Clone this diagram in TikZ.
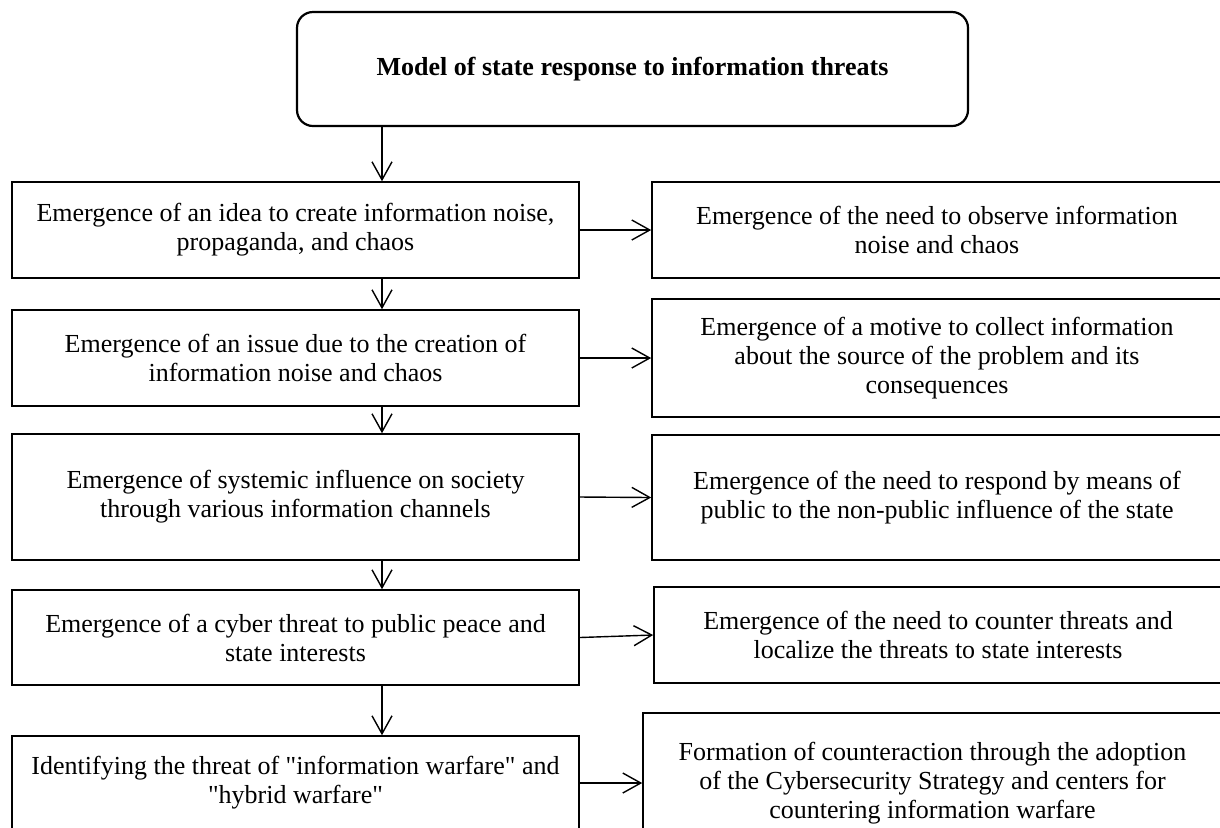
\documentclass[tikz,border=0pt]{standalone}
\usepackage{fontspec}
\setmainfont{Liberation Serif}
\usetikzlibrary{arrows.meta}

\begin{document}
\begin{tikzpicture}[x=0.5pt,y=-0.5pt,
  box/.style={draw,line width=0.8pt,inner sep=0pt,align=center,font=\fontsize{13}{14.5}\selectfont},
  title/.style={draw,line width=1.1pt,rounded corners=8pt,inner sep=0pt,align=center,font=\fontsize{13}{14.5}\selectfont\bfseries},
  arr/.style={line width=0.7pt,-{Straight Barb[length=9pt,width=10pt]}}]
\useasboundingbox (0,0) rectangle (1220,827);
% Top box
\node[title,minimum width=335.5pt,minimum height=57pt] (model) at (632.5,69) {Model of state response to information threats};
% Left column
\node[box,minimum width=283.5pt,minimum height=48pt] (idea) at (295.5,230) {Emergence of an idea to create information noise,\\ propaganda, and chaos};
\node[box,minimum width=283.5pt,minimum height=48pt] (issue) at (295.5,358) {Emergence of an issue due to the creation of\\ information noise and chaos};
\node[box,minimum width=283.5pt,minimum height=63pt] (influence) at (295.5,497) {Emergence of systemic influence on society\\ through various information channels};
\node[box,minimum width=283.5pt,minimum height=47.5pt] (cyber) at (295.5,637.5) {Emergence of a cyber threat to public peace and\\ state interests};
\node[box,minimum width=283.5pt,minimum height=47pt] (warfare) at (295.5,783) {Identifying the threat of \textquotedbl information warfare\textquotedbl{} and\\ \textquotedbl hybrid warfare\textquotedbl};
% Right column
\node[box,minimum width=285pt,minimum height=48pt] (observe) at (937,230) {Emergence of the need to observe information\\ noise and chaos};
\node[box,minimum width=285pt,minimum height=59pt] (motive) at (937,358) {Emergence of a motive to collect information\\ about the source of the problem and its\\ consequences};
\node[box,minimum width=285pt,minimum height=62.5pt] (respond) at (937,497.5) {Emergence of the need to respond by means of\\ public to the non-public influence of the state};
\node[box,minimum width=284pt,minimum height=48pt] (counter) at (938,635) {Emergence of the need to counter threats and\\ localize the threats to state interests};
\node[box,minimum width=289.5pt,minimum height=70pt] (strategy) at (932.5,783) {Formation of counteraction through the adoption\\ of the Cybersecurity Strategy and centers for\\ countering information warfare};
% Arrows
\coordinate (spine) at (382,0);
\draw[arr] (spine |- model.south) -- (spine |- idea.north);
\draw[arr] (spine |- idea.south) -- (spine |- issue.north);
\draw[arr] (spine |- issue.south) -- (spine |- influence.north);
\draw[arr] (spine |- influence.south) -- (spine |- cyber.north);
\draw[arr] (spine |- cyber.south) -- (spine |- warfare.north);
\draw[arr] (idea.east) -- (observe.west);
\draw[arr] (issue.east) -- (motive.west);
\draw[arr] (influence.east) -- (respond.west);
\draw[arr] (cyber.east) -- (counter.west);
\draw[arr] (warfare.east) -- (strategy.west);
\end{tikzpicture}
\end{document}
